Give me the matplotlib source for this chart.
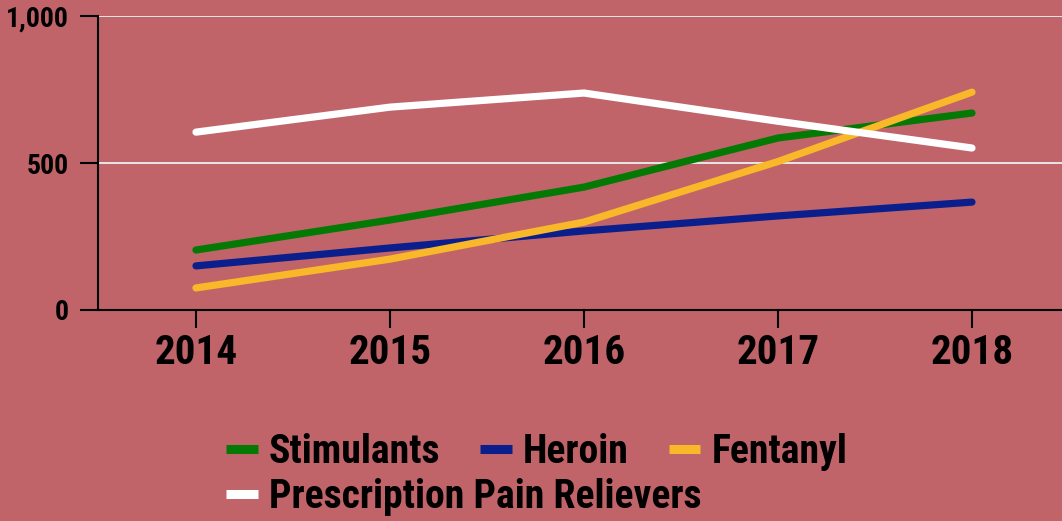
import matplotlib
matplotlib.use("Agg")
import matplotlib.pyplot as plt
from matplotlib import font_manager
from matplotlib.lines import Line2D

# Datos
years = [2014, 2015, 2016, 2017, 2018]
stimulants = [204, 306, 418, 585, 670]
heroin = [150, 211, 269, 320, 367]
fentanyl = [75, 173, 299, 505, 741]
prescription = [605, 690, 738, 642, 551]

labels = ["Stimulants", "Heroin", "Fentanyl", "Prescription Pain Relievers"]
colors = ["#047a04", "#0b1f8c", "#f8b829", "#ffffff"]
series = [stimulants, heroin, fentanyl, prescription]

ytick_vals = [0, 500, 1000]
ytick_labels = ["0", "500", "1,000"]

bg = "#c0646a"

names = {f.name for f in font_manager.fontManager.ttflist}
fam = [f for f in ["Roboto Condensed", "Liberation Sans Narrow", "Roboto"] if f in names] + ["DejaVu Sans"]
plt.rcParams["font.family"] = fam
plt.rcParams["font.weight"] = "bold"

fig = plt.figure(figsize=(10.62, 5.21), dpi=100, facecolor=bg)
ax = fig.add_axes([98 / 1062, 1 - 310 / 521, 1 - 98 / 1062, 294 / 521])
ax.set_facecolor(bg)

for y, c, lab in zip(series, colors, labels):
    ax.plot(years, y, color=c, lw=5.2, solid_capstyle="round", solid_joinstyle="round", label=lab, zorder=3)

ax.set_xlim(2013.495, 2018.464)
ax.set_ylim(0, 1000)
ax.set_xticks(years)
ax.set_xticklabels([str(y) for y in years], fontsize=29.5, fontweight="bold")
ax.set_yticks(ytick_vals)
ax.set_yticklabels(ytick_labels, fontsize=20, fontweight="bold")
ax.tick_params(axis="both", length=13, width=1.5, color="black")
ax.tick_params(axis="y", pad=8)
ax.tick_params(axis="x", pad=4)

ax.grid(axis="y", color="#e6e6e6", lw=1.4, zorder=1)
ax.set_axisbelow(True)
for s in ["top", "right"]:
    ax.spines[s].set_visible(False)
for s in ["left", "bottom"]:
    ax.spines[s].set_linewidth(1.5)
    ax.spines[s].set_color("black")
    ax.spines[s].set_zorder(4)

# Leyenda en dos filas
handles = [Line2D([0], [0], color=c, lw=6.5, solid_capstyle="butt") for c in colors]
leg_kw = dict(frameon=False, handlelength=0.8, handletextpad=0.28,
              borderaxespad=0, borderpad=0, loc="center left", prop={"weight": "bold", "size": 28.6})
fig.legend(handles[:3], labels[:3], ncol=3, columnspacing=1.0,
           bbox_to_anchor=(226 / 1062, 1 - 452 / 521), **leg_kw)
fig.legend(handles[3:], labels[3:], bbox_to_anchor=(226 / 1062, 1 - 497 / 521), **leg_kw)

fig.savefig("out.png", dpi=100, facecolor=bg)
